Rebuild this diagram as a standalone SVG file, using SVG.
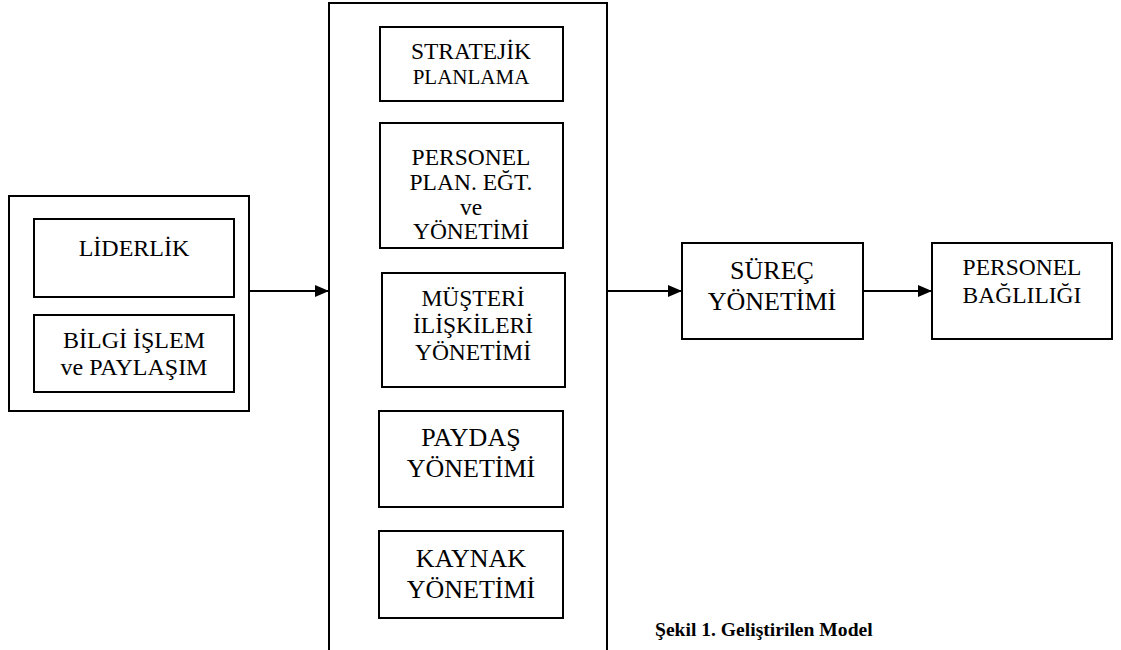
<svg xmlns="http://www.w3.org/2000/svg" width="1121" height="650" viewBox="0 0 1121 650">
<defs>
<marker id="ah" markerWidth="14" markerHeight="12" refX="14" refY="6" orient="auto" markerUnits="userSpaceOnUse">
<path d="M0,0 L14,6 L0,12 Z" fill="#000"/>
</marker>
<style>
.b{fill:#fff;stroke:#000;stroke-width:2}
.t{fill:#000;text-anchor:middle}
.c{stroke:#000;stroke-width:2;fill:none}
</style>
</defs>
<rect width="1121" height="650" fill="#fff"/>
<g font-family="Liberation Serif, Times New Roman, serif">
<g id="left-group">
<rect class="b" x="9" y="196" width="240" height="215"/>
</g>
<g id="liderlik">
<rect class="b" x="34" y="219" width="200" height="78"/>
<text class="t" x="134" y="256" font-size="24">LİDERLİK</text>
</g>
<g id="bilgi">
<rect class="b" x="34" y="315" width="200" height="77"/>
<text class="t" x="134" y="348" font-size="24">BİLGİ İŞLEM</text>
<text class="t" x="134" y="375" font-size="24">ve PAYLAŞIM</text>
</g>
<g id="center-group">
<path class="b" d="M329,652 L329,3 L607,3 L607,652"/>
</g>
<g id="stratejik">
<rect class="b" x="380" y="27" width="183" height="74"/>
<text class="t" x="471" y="59" font-size="23.5">STRATEJİK</text>
<text class="t" x="471" y="84" font-size="21">PLANLAMA</text>
</g>
<g id="personel-plan">
<rect class="b" x="380" y="123" width="183" height="125"/>
<text class="t" x="471" y="165" font-size="23.5">PERSONEL</text>
<text class="t" x="471" y="190" font-size="23.5">PLAN. EĞT.</text>
<text class="t" x="471" y="215" font-size="23.5">ve</text>
<text class="t" x="471" y="239" font-size="23.5">YÖNETİMİ</text>
</g>
<g id="musteri">
<rect class="b" x="382" y="273" width="183" height="114"/>
<text class="t" x="473" y="306" font-size="23.5">MÜŞTERİ</text>
<text class="t" x="473" y="333" font-size="23.5">İLİŞKİLERİ</text>
<text class="t" x="473" y="360" font-size="23.5">YÖNETİMİ</text>
</g>
<g id="paydas">
<rect class="b" x="379" y="411" width="184" height="96"/>
<text class="t" x="471" y="446" font-size="26">PAYDAŞ</text>
<text class="t" x="471" y="477" font-size="26">YÖNETİMİ</text>
</g>
<g id="kaynak">
<rect class="b" x="379" y="531" width="184" height="87"/>
<text class="t" x="471" y="567" font-size="26">KAYNAK</text>
<text class="t" x="471" y="598" font-size="26">YÖNETİMİ</text>
</g>
<g id="surec">
<rect class="b" x="682" y="243" width="181" height="96"/>
<text class="t" x="772" y="279" font-size="26">SÜREÇ</text>
<text class="t" x="772" y="310" font-size="26">YÖNETİMİ</text>
</g>
<g id="personel-bagliligi">
<rect class="b" x="932" y="243" width="180" height="96"/>
<text class="t" x="1022" y="275" font-size="23.5">PERSONEL</text>
<text class="t" x="1022" y="303" font-size="23.5">BAĞLILIĞI</text>
</g>
<g id="connectors">
<line class="c" x1="250" y1="291" x2="329" y2="291" marker-end="url(#ah)"/>
<line class="c" x1="608" y1="291" x2="682" y2="291" marker-end="url(#ah)"/>
<line class="c" x1="864" y1="291" x2="932" y2="291" marker-end="url(#ah)"/>
</g>
<text x="655" y="636" font-weight="bold" font-size="19.6" fill="#000">Şekil 1. Geliştirilen Model</text>
</g>
</svg>
